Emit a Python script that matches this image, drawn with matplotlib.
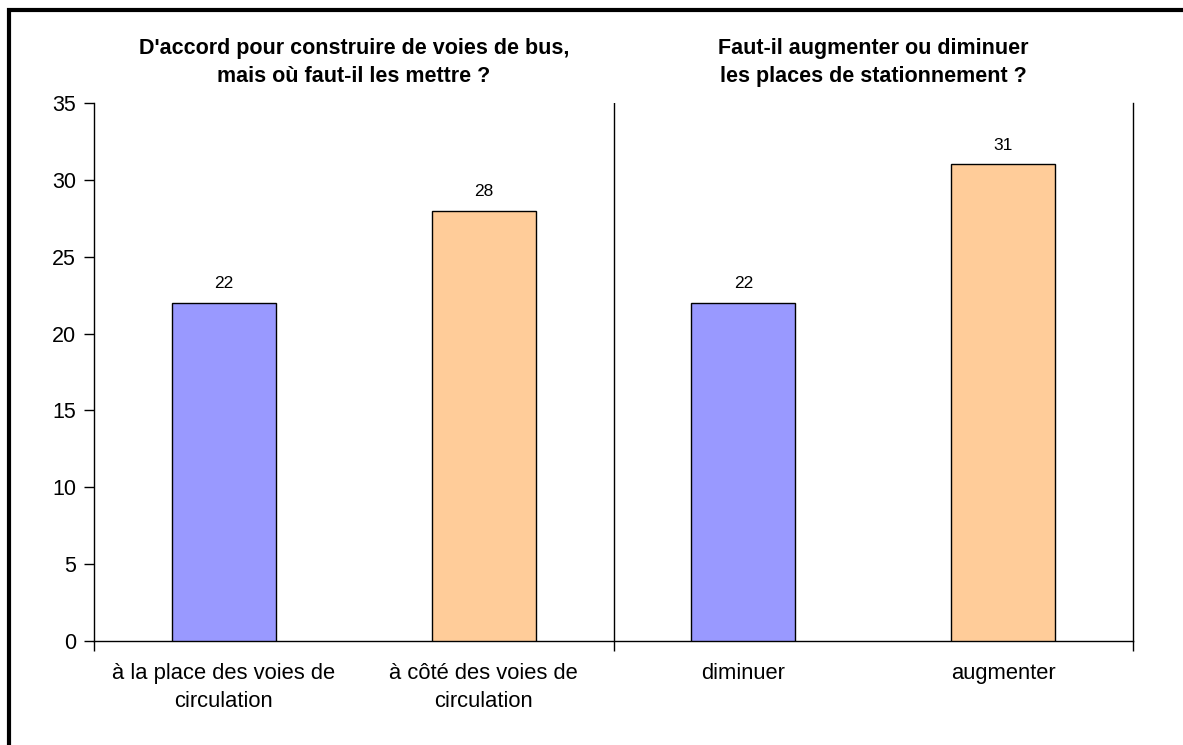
import matplotlib
matplotlib.use('Agg')
import matplotlib.pyplot as plt
from matplotlib.patches import Rectangle

plt.rcParams['font.family'] = ['Liberation Sans', 'DejaVu Sans']

categories = ['à la place des voies de\ncirculation', 'à côté des voies de\ncirculation',
              'diminuer', 'augmenter']
values = [22, 28, 22, 31]
colors = ['#9999FF', '#FFCC99', '#9999FF', '#FFCC99']
titles = ["D'accord pour construire de voies de bus,\nmais où faut-il les mettre ?",
          "Faut-il augmenter ou diminuer\nles places de stationnement ?"]
yticks = [0, 5, 10, 15, 20, 25, 30, 35]

fig = plt.figure(figsize=(11.83, 7.45), dpi=100)
fig.patch.set_facecolor('white')
ax = fig.add_axes([94 / 1183, 104 / 745, 1039 / 1183, 538 / 745])

xs = range(len(values))
ax.bar(xs, values, width=0.4, color=colors, edgecolor='black', linewidth=1.0, zorder=3)
for x, v in zip(xs, values):
    ax.text(x, v + 0.75, str(v), ha='center', va='bottom', fontsize=12.5)

ax.set_xlim(-0.5, 3.5)
ax.set_ylim(0, 35)
ax.set_yticks(yticks)
ax.tick_params(axis='y', direction='out', length=7, width=1, labelsize=15.5, pad=6)
ax.set_xticks([-0.5, 1.5, 3.5])
ax.set_xticklabels([])
ax.tick_params(axis='x', direction='out', length=7, width=1)
ax.spines['top'].set_visible(False)
for s in ['left', 'right', 'bottom']:
    ax.spines[s].set_linewidth(1.0)

# separator between the two questions
ax.axvline(1.5, color='black', linewidth=1.0)

# category labels under the bars
for x, lab in zip(xs, categories):
    ax.text(x, -1.45, lab, ha='center', va='top', fontsize=15.8, linespacing=1.4)

# panel titles
ax.text(0.5, 36.05, titles[0], ha='center', va='bottom', fontsize=15.5,
        fontweight='bold', linespacing=1.45)
ax.text(2.5, 36.05, titles[1], ha='center', va='bottom', fontsize=15.5,
        fontweight='bold', linespacing=1.45)

# outer frame
fig.patches.append(Rectangle((9 / 1183, -0.05), 1.2, (740 - 5) / 745 + 0.05,
                             transform=fig.transFigure, fill=False,
                             edgecolor='black', linewidth=3))

fig.savefig('out.png', dpi=100, facecolor='white')
